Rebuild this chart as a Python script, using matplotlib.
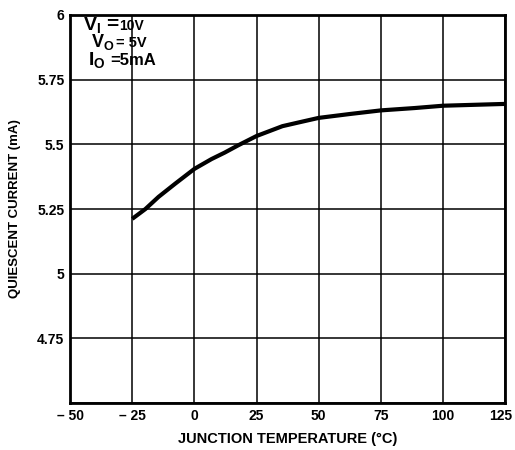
import matplotlib
matplotlib.use("Agg")
import matplotlib.pyplot as plt
from matplotlib.transforms import ScaledTranslation

# values
temp_c = [-25, -19.7, -14.4, -7.7, 0, 6.9, 12.2, 17.6, 25, 35.4, 42.2,
          50, 62.5, 75, 88.5, 100, 125]
iq_ma = [5.212, 5.25, 5.297, 5.348, 5.405, 5.443, 5.468, 5.496, 5.532, 5.570,
         5.585, 5.602, 5.617, 5.631, 5.640, 5.649, 5.656]

x_ticks = [-50, -25, 0, 25, 50, 75, 100, 125]
x_labels = ["\u2013 50", "\u2013 25", "0", "25", "50", "75", "100", "125"]
y_ticks = [4.5, 4.75, 5, 5.25, 5.5, 5.75, 6]
y_labels = ["", "4.75", "5", "5.25", "5.5", "5.75", "6"]

plt.rcParams["font.family"] = ["Liberation Sans", "DejaVu Sans"]
plt.rcParams["font.weight"] = "bold"
plt.rcParams["mathtext.fontset"] = "custom"
plt.rcParams["mathtext.bf"] = "Liberation Sans:bold"
plt.rcParams["mathtext.rm"] = "Liberation Sans:bold"

fig = plt.figure(figsize=(5.15, 4.5), dpi=100)
ax = fig.add_axes([0.136, 0.104, 0.845, 0.863])

ax.plot(temp_c, iq_ma, color="black", lw=3.0, solid_capstyle="butt",
        solid_joinstyle="round")

ax.set_xlim(-50, 125)
ax.set_ylim(4.5, 6)
ax.set_xticks(x_ticks)
ax.set_xticklabels(x_labels)
ax.set_yticks(y_ticks)
ax.set_yticklabels(y_labels)
ax.tick_params(length=0, labelsize=10, pad=4)
for lbl in ax.get_xticklabels() + ax.get_yticklabels():
    lbl.set_fontweight("bold")
# last label sits right at the figure edge; nudge it in a touch
last = ax.get_xticklabels()[-1]
last.set_transform(last.get_transform() + ScaledTranslation(-3 / 72, 0, fig.dpi_scale_trans))
ax.grid(True, color="black", lw=1.1)
for s in ax.spines.values():
    s.set_linewidth(2)

ax.set_xlabel("JUNCTION TEMPERATURE (\u00b0C)", fontsize=10.5, fontweight="bold", labelpad=7)
ax.set_ylabel("QUIESCENT CURRENT (mA)", fontsize=9.5, fontweight="bold", labelpad=12)

# condition block, top-left
tr = ax.transAxes
ax.text(0.030, 0.961, r"$\mathbf{V_I}$", transform=tr, fontsize=14, va="baseline")
ax.text(0.082, 0.961, "=", transform=tr, fontsize=15, fontweight="bold", va="baseline")
ax.text(0.113, 0.961, "10V", transform=tr, fontsize=10, fontweight="bold", va="baseline")
ax.text(0.048, 0.918, r"$\mathbf{V_O}$", transform=tr, fontsize=13, va="baseline")
ax.text(0.106, 0.918, "= 5V", transform=tr, fontsize=10.5, fontweight="bold", va="baseline")
ax.text(0.041, 0.871, r"$\mathbf{I_O}$", transform=tr, fontsize=14, va="baseline")
ax.text(0.093, 0.871, "=5mA", transform=tr, fontsize=12, fontweight="bold", va="baseline")

fig.savefig("out.png", dpi=100)
